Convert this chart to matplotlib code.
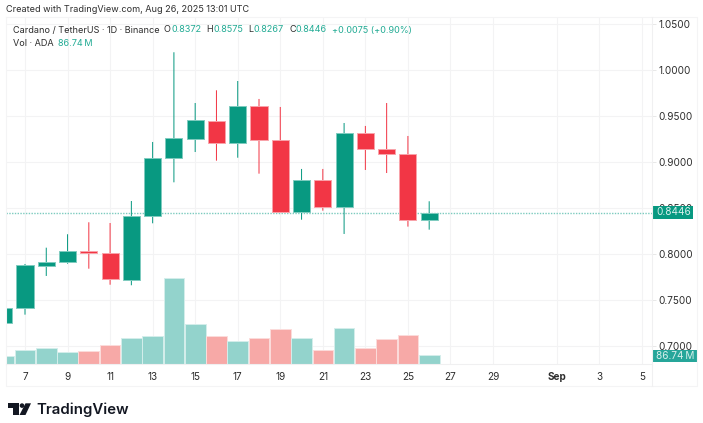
import matplotlib
matplotlib.use("Agg")
import matplotlib.pyplot as plt
from matplotlib.patches import Polygon, Rectangle, Circle

plt.rcParams['font.family'] = ['Inter', 'DejaVu Sans']

days = [6, 7, 8, 9, 10, 11, 12, 13, 14, 15, 16, 17, 18, 19, 20, 21, 22, 23, 24, 25, 26]
opens = [.7257, .7413, .7876, .7913, .8035, .8014, .7724, .8412, .9042, .9255, .9450, .9211, .9606, .9237, .8462, .8809, .8513, .9318, .9143, .9092, .8372]
highs = [.7413, .7894, .8071, .8217, .8347, .8339, .8578, .9219, 1.0193, .9642, .9780, .9881, .9686, .9599, .8926, .8926, .9425, .9393, .9642, .9284, .8575]
lows = [.7257, .7344, .7764, .7897, .7843, .7669, .7663, .8336, .8781, .9110, .9016, .9048, .8875, .8459, .8375, .8473, .8220, .8915, .8882, .8300, .8267]
closes = [.7413, .7880, .7916, .8032, .8010, .7728, .8415, .9042, .9259, .9454, .9211, .9606, .9237, .8462, .8809, .8513, .9313, .9143, .9092, .8369, .8446]
volumes = [80, 140, 157, 123, 130, 190, 257, 280, 860, 400, 277, 227, 260, 347, 260, 143, 357, 160, 250, 287, 86.74]

price_ticks = [.70, .75, .80, .85, .90, .95, 1.00, 1.05]
x_ticks = [7, 9, 11, 13, 15, 17, 19, 21, 23, 25, 27, 29, 32, 34, 36]
x_labels = ['7', '9', '11', '13', '15', '17', '19', '21', '23', '25', '27', '29', 'Sep', '3', '5']
last_close = .8446
last_volume_label = '86.74\u2009M'
last_close_label = '0.8446'

GREEN, RED = '#089981', '#f23645'
VGREEN, VRED = '#93d3cc', '#f7a9a7'
GRID, TXT = '#f3f3f4', '#2e2e2e'
XLIM = (6.107, 36.45)
YLIM = (.6808, 1.0576)
AXFS, HDFS = 7.2, 6.55

W, H = 703, 423
fig = plt.figure(figsize=(W / 100, H / 100), dpi=100, facecolor='white')
L, R, T, B = 6, 651.5, 17, 364
rect = [L / W, 1 - B / H, (R - L) / W, (B - T) / H]

axg = fig.add_axes(rect, zorder=1)
axv = fig.add_axes(rect, zorder=2)
ax = fig.add_axes(rect, zorder=3)
for a in (ax, axv, axg):
    a.set_xlim(*XLIM)
    for s in a.spines.values():
        s.set_visible(False)
ax.patch.set_visible(False)
axv.patch.set_visible(False)
ax.set_ylim(*YLIM)
axg.set_ylim(*YLIM)
axv.set_ylim(0, 3470)
axv.set_xticks([]); axv.set_yticks([])
ax.set_xticks([]); ax.set_yticks([])

axg.set_yticks(price_ticks, [f'{p:.4f}' for p in price_ticks])
axg.yaxis.tick_right()
axg.set_xticks(x_ticks, x_labels)
axg.tick_params(axis='y', length=3, color='#e8e8e8', labelsize=AXFS, labelcolor=TXT, pad=1.7, width=.7)
axg.tick_params(axis='x', length=0, labelsize=AXFS, labelcolor=TXT, pad=5.7)
axg.get_xticklabels()[12].set_fontweight('bold')
axg.grid(True, color=GRID, lw=.8)

up = [c >= o for o, c in zip(opens, closes)]
axv.bar(days, volumes, width=.97,
        color=[VGREEN if u else VRED for u in up],
        edgecolor=['#d4eeeb' if u else '#fcdcdb' for u in up], linewidth=.7)

cols = [GREEN if u else RED for u in up]
wicks = ax.vlines(days, lows, highs, colors=cols, linewidth=.72, zorder=3)
wicks.set_snap(False)
ax.bar(days, [abs(c - o) for o, c in zip(opens, closes)], bottom=[min(o, c) for o, c in zip(opens, closes)],
       width=.8, color=cols, edgecolor=['#7fccbf' if u else '#f9a3aa' for u in up], linewidth=.7, zorder=4)
ax.axhline(last_close, color='#7ccbbf', lw=1, ls=(0, (1, 1)), zorder=2)

ov = fig.add_axes([0, 0, 1, 1], zorder=5)
ov.set_xlim(0, W)
ov.set_ylim(H, 0)
ov.axis('off')
ov.plot([L, 697, 697, L, L], [T, T, 386, 386, T], color='#f4f4f5', lw=.8)
ov.plot([L, R], [B, B], color='#f0f0f1', lw=.8)
ov.plot([R, R], [T, 386], color='#f0f0f1', lw=.8)
ov.add_patch(Rectangle((652.3, 205.7), 40.7, 13, color=GREEN, lw=0))
ov.add_patch(Rectangle((652.3, 349.7), 44.2, 12, color='#26a69a', lw=0))
ov.text(673.5, 212.4, last_close_label, color='#d8f0ec', fontsize=AXFS, ha='center', va='center')
ov.text(675.4, 355.9, last_volume_label, color='#d8f0ec', fontsize=AXFS, ha='center', va='center')

ov.text(6.5, 9, 'Created with TradingView.com, Aug 26, 2025 13:01 UTC', color=TXT, fontsize=HDFS, ha='left', va='center')

segments = [('Cardano / TetherUS · 1D · Binance', TXT, 13), ('O', TXT, 164), ('0.8372', '#22ab94', 171),
            ('H', TXT, 206.5), ('0.8575', '#22ab94', 213.5), ('L', TXT, 248.5), ('0.8267', '#22ab94', 254),
            ('C', TXT, 289), ('0.8446', '#22ab94', 296), ('+0.0075 (+0.90%)', '#22ab94', 331.5)]
for s, c, x in segments:
    ov.text(x, 30, s, color=c, fontsize=HDFS, ha='left', va='center')
ov.text(13, 43, 'Vol · ADA', color=TXT, fontsize=HDFS, ha='left', va='center')
ov.text(58, 43, last_volume_label, color='#22ab94', fontsize=HDFS, ha='left', va='center')

LOGO = '#131722'
ov.add_patch(Polygon([(8, 403.3), (18.5, 403.3), (18.5, 415), (13, 415), (13, 408), (8, 408)], color=LOGO, lw=0))
ov.add_patch(Circle((22, 405.6), 2.3, color=LOGO, lw=0))
ov.add_patch(Polygon([(25.5, 403.3), (31, 403.3), (25.5, 415), (19.5, 415)], color=LOGO, lw=0))
ov.text(36.5, 409.3, 'TradingView', color=LOGO, fontsize=10.8, fontweight='semibold', ha='left', va='center')

fig.savefig('out.png', dpi=100)
